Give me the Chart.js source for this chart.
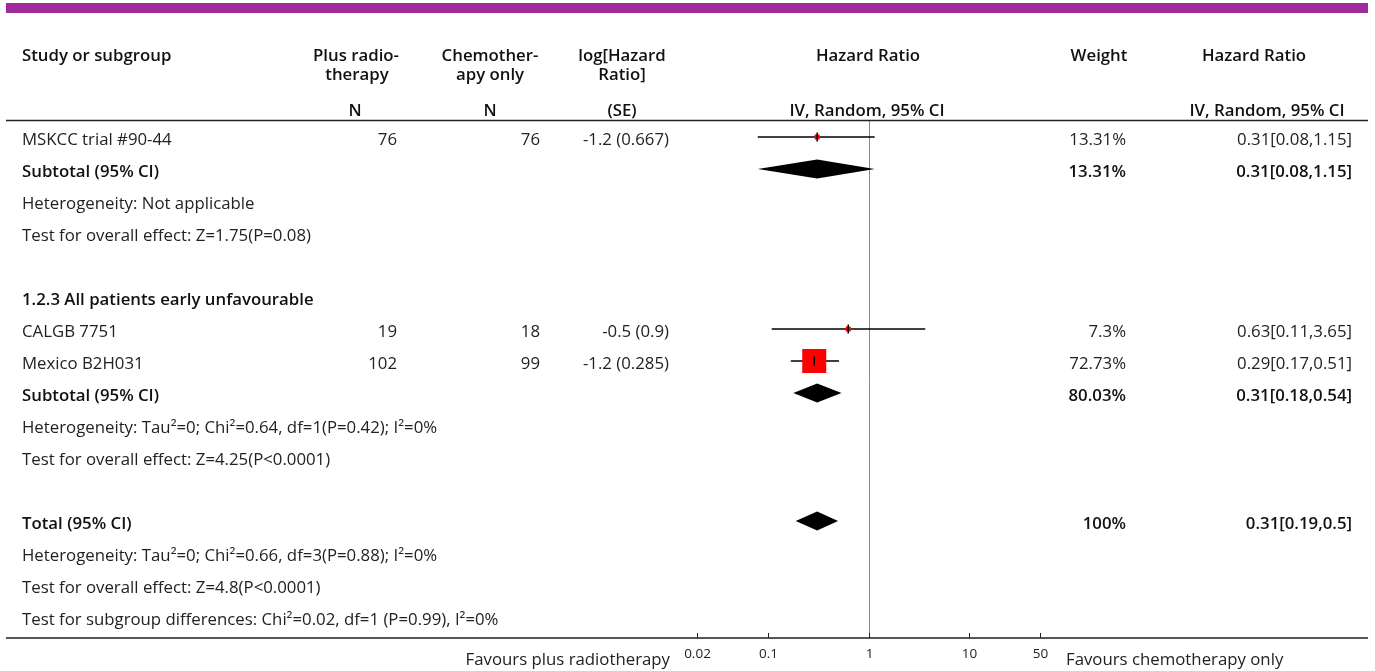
<!DOCTYPE html>
<html>
<head>
<meta charset="utf-8">
<script src="https://cdn.jsdelivr.net/npm/chart.js@4.4.1/dist/chart.umd.min.js"></script>
<style>
  html, body { margin: 0; padding: 0; background: #fff; }
  #forest { display: block; }
</style>
</head>
<body>
<canvas id="forest" width="1375" height="671"></canvas>
<script>
// ---- Forest plot data: one entry per table row ----
const rowLabels = [
  'MSKCC trial #90-44',
  'Subtotal (95% CI)',
  'Heterogeneity: Not applicable',
  'Test for overall effect: Z=1.75(P=0.08)',
  '',
  '1.2.3 All patients early unfavourable',
  'CALGB 7751',
  'Mexico B2H031',
  'Subtotal (95% CI)',
  'Heterogeneity: Tau\u00b2=0; Chi\u00b2=0.64, df=1(P=0.42); I\u00b2=0%',
  'Test for overall effect: Z=4.25(P<0.0001)',
  '',
  'Total (95% CI)',
  'Heterogeneity: Tau\u00b2=0; Chi\u00b2=0.66, df=3(P=0.88); I\u00b2=0%',
  'Test for overall effect: Z=4.8(P<0.0001)',
  'Test for subgroup differences: Chi\u00b2=0.02, df=1 (P=0.99), I\u00b2=0%'
];
const rowKind = ['study','subtotal','note','note','blank','group','study','study','subtotal','note','note','blank','subtotal','note','note','note'];
const nRadiotherapy = [76, null, null, null, null, null, 19, 102, null, null, null, null, null, null, null, null];
const nChemoOnly    = [76, null, null, null, null, null, 18, 99,  null, null, null, null, null, null, null, null];
const logHazard     = [-1.2, null, null, null, null, null, -0.5, -1.2, null, null, null, null, null, null, null, null];
const logHazardSE   = [0.667, null, null, null, null, null, 0.9, 0.285, null, null, null, null, null, null, null, null];
const weightPct     = [13.31, 13.31, null, null, null, null, 7.3, 72.73, 80.03, null, null, null, 100, null, null, null];
const hazardRatio   = [0.31, 0.31, null, null, null, null, 0.63, 0.29, 0.31, null, null, null, 0.31, null, null, null];
const ciLower       = [0.08, 0.08, null, null, null, null, 0.11, 0.17, 0.18, null, null, null, 0.19, null, null, null];
const ciUpper       = [1.15, 1.15, null, null, null, null, 3.65, 0.51, 0.54, null, null, null, 0.5,  null, null, null];
const axisTicks = [0.02, 0.1, 1, 10, 50];
const axisTickLabels = ['0.02', '0.1', '1', '10', '50'];

const FONT = '"Open Sans", "Noto Sans", sans-serif';
const BODY_SIZE = 16.8;
const TEXT = '#222';

// ---- datasets built from the arrays above ----
const studyRows = rowKind.map((k, i) => k === 'study' ? i : -1).filter(i => i >= 0);
const subtotalRows = rowKind.map((k, i) => k === 'subtotal' ? i : -1).filter(i => i >= 0);

const whiskerSets = studyRows.map(i => ({
  type: 'scatter',
  data: [{ x: ciLower[i], y: i }, { x: ciUpper[i], y: i }],
  showLine: true,
  borderColor: '#000',
  borderWidth: 1.5,
  pointRadius: 0,
  order: 2
}));

// square side grows with study weight
const sideFor = w => Math.max(5, w * 0.33);
const squareSet = {
  type: 'scatter',
  data: studyRows.map(i => ({ x: hazardRatio[i], y: i })),
  pointStyle: 'rect',
  pointRadius: studyRows.map(i => sideFor(weightPct[i]) / Math.SQRT2),
  backgroundColor: '#ff0000',
  borderWidth: 0,
  order: 1
};

const tablePlugin = {
  id: 'forestTable',
  beforeDatasetsDraw(chart) {
    const ctx = chart.ctx;
    const xs = chart.scales.x;
    const area = chart.chartArea;
    ctx.save();
    // line of no effect
    const x1 = Math.round(xs.getPixelForValue(1)) + 0.5;
    ctx.strokeStyle = '#8a8a8a';
    ctx.lineWidth = 1;
    ctx.beginPath();
    ctx.moveTo(x1, area.top);
    ctx.lineTo(x1, area.bottom);
    ctx.stroke();
    ctx.restore();
  },
  afterDatasetsDraw(chart) {
    const ctx = chart.ctx;
    const xs = chart.scales.x, ys = chart.scales.y;
    ctx.save();

    // vertical tick through each study square
    ctx.strokeStyle = '#000';
    ctx.lineWidth = 1.5;
    studyRows.forEach(i => {
      const px = xs.getPixelForValue(hazardRatio[i]);
      const py = ys.getPixelForValue(i);
      ctx.beginPath();
      ctx.moveTo(px, py - 4.5);
      ctx.lineTo(px, py + 4.5);
      ctx.stroke();
    });

    // pooled estimates as diamonds
    ctx.fillStyle = '#000';
    subtotalRows.forEach(i => {
      const l = xs.getPixelForValue(ciLower[i]);
      const r = xs.getPixelForValue(ciUpper[i]);
      const c = xs.getPixelForValue(hazardRatio[i]);
      const py = ys.getPixelForValue(i);
      ctx.beginPath();
      ctx.moveTo(l, py);
      ctx.lineTo(c, py - 9.5);
      ctx.lineTo(r, py);
      ctx.lineTo(c, py + 9.5);
      ctx.closePath();
      ctx.fill();
    });
    ctx.restore();
  },
  afterDraw(chart) {
    const ctx = chart.ctx;
    const xs = chart.scales.x, ys = chart.scales.y;
    const area = chart.chartArea;
    ctx.save();

    // banner
    ctx.fillStyle = '#9f2a9b';
    ctx.fillRect(6, 3, 1362, 10);

    const text = (s, x, y, align, bold, size) => {
      ctx.font = (bold ? '600 ' : '') + (size || BODY_SIZE) + 'px ' + FONT;
      ctx.fillStyle = bold ? '#111' : TEXT;
      ctx.textAlign = align;
      ctx.textBaseline = 'middle';
      ctx.fillText(s, x, y);
    };

    // column headings
    text('Study or subgroup', 22, 56, 'left', true);
    text('Plus radio-', 356, 56, 'center', true);
    text('therapy', 357, 75, 'center', true);
    text('N', 355, 111, 'center', true);
    text('Chemother-', 490, 56, 'center', true);
    text('apy only', 490, 75, 'center', true);
    text('N', 490, 111, 'center', true);
    text('log[Hazard', 622, 56, 'center', true);
    text('Ratio]', 622, 75, 'center', true);
    text('(SE)', 622, 111, 'center', true);
    text('Hazard Ratio', 868, 56, 'center', true);
    text('IV, Random, 95% CI', 867, 111, 'center', true);
    text('Weight', 1099, 56, 'center', true);
    text('Hazard Ratio', 1254, 56, 'center', true);
    text('IV, Random, 95% CI', 1267, 111, 'center', true);

    // header rule and bottom rule
    ctx.strokeStyle = '#222';
    ctx.lineWidth = 1.5;
    ctx.beginPath();
    ctx.moveTo(6, 120.5); ctx.lineTo(1368, 120.5);
    ctx.moveTo(6, area.bottom); ctx.lineTo(1368, area.bottom);
    ctx.stroke();

    // table body
    rowLabels.forEach((lab, i) => {
      const y = ys.getPixelForValue(i) + 3;
      const bold = rowKind[i] === 'subtotal' || rowKind[i] === 'group';
      if (lab) text(lab, 22, y, 'left', bold);
      if (nRadiotherapy[i] !== null) text(String(nRadiotherapy[i]), 397, y, 'right', false);
      if (nChemoOnly[i] !== null) text(String(nChemoOnly[i]), 540, y, 'right', false);
      if (logHazard[i] !== null) text(logHazard[i] + ' (' + logHazardSE[i] + ')', 669, y, 'right', false);
      if (weightPct[i] !== null) text(weightPct[i] + '%', 1126, y, 'right', bold);
      if (hazardRatio[i] !== null) text(hazardRatio[i] + '[' + ciLower[i] + ',' + ciUpper[i] + ']', 1352, y, 'right', bold);
    });

    // x axis ticks (drawn upward from the rule) and labels
    ctx.strokeStyle = '#222';
    ctx.lineWidth = 1;
    axisTicks.forEach((v, k) => {
      const px = Math.round(xs.getPixelForValue(v)) + 0.5;
      ctx.beginPath();
      ctx.moveTo(px, area.bottom - 5);
      ctx.lineTo(px, area.bottom);
      ctx.stroke();
      text(axisTickLabels[k], px, area.bottom + 16, 'center', false, 13.5);
    });
    text('Favours plus radiotherapy', 670, area.bottom + 22, 'right', false);
    text('Favours chemotherapy only', 1066, area.bottom + 22, 'left', false);

    ctx.restore();
  }
};

new Chart(document.getElementById('forest'), {
  type: 'scatter',
  data: { datasets: [...whiskerSets, squareSet] },
  options: {
    responsive: false,
    animation: false,
    events: [],
    layout: { padding: { left: 697, right: 335, top: 121, bottom: 33 } },
    scales: {
      x: { type: 'logarithmic', min: 0.02, max: 50, display: false },
      y: { type: 'linear', reverse: true, min: -0.5, max: 15.65625, display: false }
    },
    plugins: { legend: { display: false }, tooltip: { enabled: false } }
  },
  plugins: [tablePlugin]
});
</script>
</body>
</html>
